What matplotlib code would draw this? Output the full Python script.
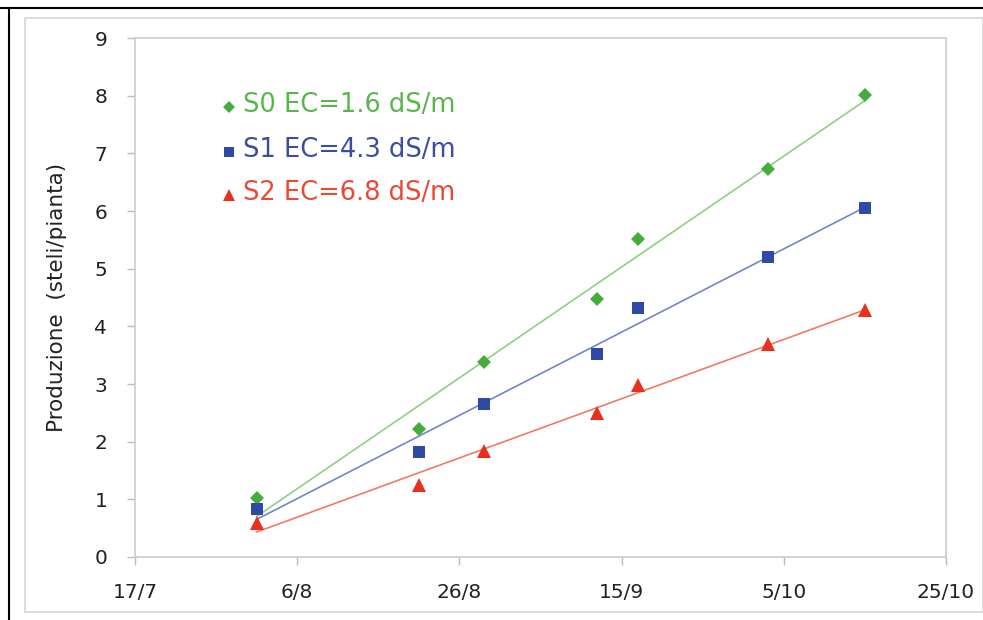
import matplotlib
matplotlib.use("Agg")
import matplotlib.pyplot as plt
import matplotlib.dates as mdates
from matplotlib.patches import Rectangle
from matplotlib.lines import Line2D
import numpy as np

# Data
dates = ["2009-08-01", "2009-08-21", "2009-08-29", "2009-09-12",
         "2009-09-17", "2009-10-03", "2009-10-15"]
s0 = [1.02, 2.22, 3.38, 4.48, 5.52, 6.72, 8.02]
s1 = [0.83, 1.82, 2.66, 3.52, 4.32, 5.20, 6.06]
s2 = [0.59, 1.25, 1.84, 2.50, 2.99, 3.70, 4.29]
labels = ["S0 EC=1.6 dS/m", "S1 EC=4.3 dS/m", "S2 EC=6.8 dS/m"]
xtick_dates = ["2009-07-17", "2009-08-06", "2009-08-26", "2009-09-15",
               "2009-10-05", "2009-10-25"]
yticks = list(range(0, 10))
ylabel = "Produzione  (steli/pianta)"

plt.rcParams['font.family'] = ['DejaVu Sans']

fig = plt.figure(figsize=(9.83, 6.2), dpi=100)
W, H = 983, 620

# Outer frames
fig.add_artist(Line2D([0, 1], [1 - 8 / H, 1 - 8 / H], color="black", lw=1.5,
                      transform=fig.transFigure))
fig.add_artist(Line2D([9 / W, 9 / W], [0, 1 - 8 / H], color="black", lw=1.5,
                      transform=fig.transFigure))
fig.add_artist(Rectangle((25 / W, 8 / H), (W - 25) / W, (H - 26) / H,
                         transform=fig.transFigure, fill=False,
                         edgecolor="#dddddd", lw=1.5))

ax = fig.add_axes([135 / W, (H - 557) / H, (946 - 135) / W, (557 - 38) / H])

xd = mdates.datestr2num(dates)
series = [s0, s1, s2]
mcolors = ["#45ad3c", "#2e4aa6", "#e8301c"]
lcolors = ["#90cf84", "#7585c8", "#f07a6a"]
tcolors = ["#5ab64c", "#3c4c9e", "#e84a34"]
markers = ["D", "s", "^"]
msizes = [7, 8, 10]

for ys, mc, lc, mk, ms in zip(series, mcolors, lcolors, markers, msizes):
    k, b = np.polyfit(xd, ys, 1)
    xl = np.array([xd[0], xd[-1]])
    ax.plot(xl, k * xl + b, color=lc, lw=1.2, zorder=2)
    ax.plot(xd, ys, linestyle="none", marker=mk, color=mc, markersize=ms,
            markeredgewidth=0, zorder=3)

xt = mdates.datestr2num(xtick_dates)
ax.set_xlim(xt[0], xt[-1])
ax.set_xticks(xt)
ax.set_xticklabels([f"{mdates.num2date(v).day}/{mdates.num2date(v).month}" for v in xt])
ax.set_ylim(0, 9)
ax.set_yticks(yticks)

for s in ax.spines.values():
    s.set_color("#cccccc")
    s.set_linewidth(1.2)
ax.tick_params(axis="both", colors="#bbbbbb", labelcolor="#222222",
               labelsize=14.5, length=6, width=1)
ax.tick_params(axis="x", pad=13)
ax.tick_params(axis="y", pad=14)
ax.set_ylabel(ylabel, fontsize=15.5, color="#222222", labelpad=20)

# Legend as text
leg_y = [105, 150, 193]
for lab, ty, mc, tc, mk, ms in zip(labels, leg_y, mcolors, tcolors, markers, msizes):
    fig.text(243 / W, 1 - ty / H, lab, color=tc, fontsize=18.5, va="center", ha="left")
    fig.add_artist(Line2D([229 / W], [1 - (ty + 2) / H], marker=mk, color=mc,
                          markersize=ms * 0.85, markeredgewidth=0, linestyle="none",
                          transform=fig.transFigure))

fig.savefig("out.png", dpi=100)
